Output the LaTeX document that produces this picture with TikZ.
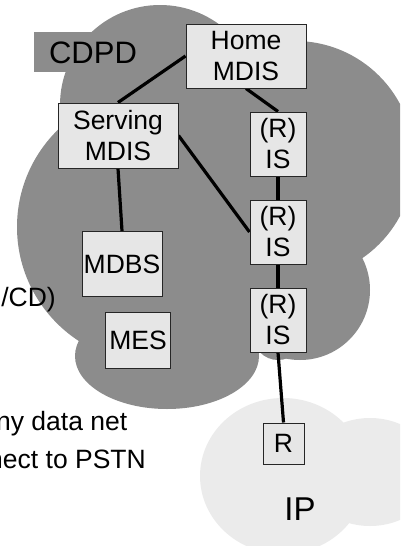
\documentclass[tikz,border=0pt]{standalone}
\usepackage{fontspec}
\setmainfont{Liberation Sans}
\definecolor{cdpdgray}{RGB}{140,140,140}
\definecolor{ipgray}{RGB}{235,235,235}
\definecolor{boxfill}{RGB}{230,230,230}
\definecolor{boxline}{RGB}{38,38,38}
\pgfdeclarelayer{cloudlayer}
\pgfdeclarelayer{linklayer}
\pgfsetlayers{cloudlayer,linklayer,main}
\tikzset{
  netbox/.style={draw=boxline, line width=1pt, fill=boxfill, inner sep=0pt,
    align=center, font=\fontsize{26.5}{31}\selectfont},
  link/.style={line width=3.2pt, draw=black},
  sidetext/.style={anchor=base east, inner sep=0pt, font=\fontsize{26.5}{31}\selectfont},
  bigtext/.style={anchor=base, inner sep=0pt},
}
\begin{document}
\begin{tikzpicture}[x=1pt,y=-1pt]
\useasboundingbox (0,0) rectangle (400,546);

% nodes
\node[netbox, minimum width=120pt, minimum height=64pt] (home) at (246,56) {Home\\MDIS};
\node[netbox, minimum width=120pt, minimum height=65pt] (serv) at (118,135.5) {Serving\\MDIS};
\node[netbox, minimum width=56pt, minimum height=64pt] (is1) at (278,144) {(R)\\IS};
\node[netbox, minimum width=56pt, minimum height=64pt] (is2) at (278,232) {(R)\\IS};
\node[netbox, minimum width=56pt, minimum height=64pt] (is3) at (278,320) {(R)\\IS};
\node[netbox, minimum width=80pt, minimum height=65pt] (mdbs) at (122,264) {MDBS};
\node[netbox, minimum width=65pt, minimum height=56pt] (mes) at (138,340) {MES};
\node[netbox, minimum width=41pt, minimum height=41pt] (r) at (283.5,443.5) {R};

\begin{pgfonlayer}{cloudlayer}
\begin{scope}
\clip (0,0) rectangle (400,546);
% CDPD cloud
\fill[cdpdgray] (160,105) circle[radius=100pt];
\fill[cdpdgray] (34,31.7) rectangle (140,71.7);
\fill[cdpdgray] (153,227) circle[radius=136pt];
\fill[cdpdgray] (295,160) circle[radius=119pt];
\fill[cdpdgray] (300,290) circle[radius=70pt];
\fill[cdpdgray] (278,335) circle[radius=25pt];
\fill[cdpdgray] (167,356) ellipse[x radius=92pt, y radius=53pt];
% IP cloud
\fill[ipgray] (283,476) ellipse[x radius=83pt, y radius=78pt];
\fill[ipgray] (370,472) ellipse[x radius=65pt, y radius=54pt];
% labels
\node[bigtext, font=\fontsize{31}{36}\selectfont] (cdpdlabel) at (93,63.3) {CDPD};
\node[bigtext, font=\fontsize{33}{38}\selectfont] (iplabel) at (300,520) {IP};
\node[sidetext] (side1) at (56,306) {/CD)};
\node[sidetext] (side2) at (127.5,430) {ny data net};
\node[sidetext] (side3) at (146,468.3) {nect to PSTN};
\end{scope}
\end{pgfonlayer}

\begin{pgfonlayer}{linklayer}
\draw[link] (home.west) -- (serv.north);
\draw[link] (home.south) -- (is1.north);
\draw[link] (serv.east) -- (is2.west);
\draw[link] (serv.south) -- (mdbs.north);
\draw[link] (is1.south) -- (is2.north);
\draw[link] (is2.south) -- (is3.north);
\draw[link] (is3.south) -- (r.north);
\end{pgfonlayer}
\end{tikzpicture}
\end{document}
